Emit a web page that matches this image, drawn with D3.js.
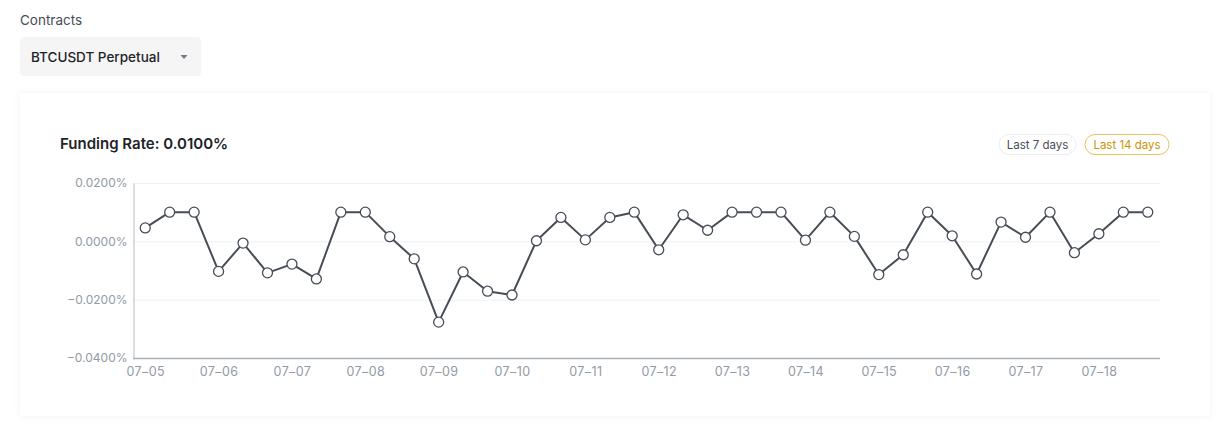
<!DOCTYPE html>
<html><head><meta charset="utf-8">
<script src="https://cdn.jsdelivr.net/npm/d3@7/dist/d3.min.js"></script>
<style>
html,body{margin:0;padding:0;background:#fff;}
svg{display:block;font-family:Inter,"Noto Sans",sans-serif;}
</style></head>
<body>
<svg id="chart" width="1220" height="422"></svg>
<script>
const days = ["07-05","07-06","07-07","07-08","07-09","07-10","07-11","07-12","07-13","07-14","07-15","07-16","07-17","07-18"];
const fundingRates = [
  0.0046, 0.0100, 0.0100,
 -0.0103,-0.0006,-0.0108,
 -0.0078,-0.0129, 0.0100,
  0.0100, 0.0016,-0.0060,
 -0.0277,-0.0105,-0.0171,
 -0.0184, 0.0002, 0.0082,
  0.0005, 0.0082, 0.0100,
 -0.0029, 0.0091, 0.0038,
  0.0100, 0.0100, 0.0100,
  0.0004, 0.0100, 0.0017,
 -0.0114,-0.0046, 0.0100,
  0.0019,-0.0112, 0.0066,
  0.0014, 0.0100,-0.0039,
  0.0026, 0.0100, 0.0100
];
const yTicks = [0.02, 0, -0.02, -0.04];
const periodLabels = ["Last 7 days","Last 14 days"];
const currentRate = "0.0100%";

const svg = d3.select("#chart");
const defs = svg.append("defs");
const f = defs.append("filter").attr("id","sh").attr("x","-5%").attr("y","-10%").attr("width","110%").attr("height","120%");
f.append("feDropShadow").attr("dx",0).attr("dy",0).attr("stdDeviation",3).attr("flood-color","#000").attr("flood-opacity",0.06);

// header
svg.append("text").attr("x",20).attr("y",25).attr("font-size",13.5).attr("fill","#474D57").text("Contracts");
svg.append("rect").attr("x",20).attr("y",37).attr("width",181).attr("height",39).attr("rx",4).attr("fill","#F5F5F5");
svg.append("text").attr("x",31).attr("y",61.5).attr("font-size",13.5).attr("font-weight",500).attr("fill","#1E2329").text("BTCUSDT Perpetual");
svg.append("path").attr("d","M180.5,55 L187.5,55 L184,59 Z").attr("fill","#707A8A");

// card
svg.append("rect").attr("x",20).attr("y",93).attr("width",1190).attr("height",323).attr("fill","#fff").attr("filter","url(#sh)");

svg.append("text").attr("x",60).attr("y",149).attr("font-size",15).attr("font-weight",600).attr("fill","#1E2329").text("Funding Rate: " + currentRate);

// buttons
const btns = [{x:999,w:77,label:periodLabels[0],stroke:"#EAECEF",fill:"#474D57"},{x:1085,w:84,label:periodLabels[1],stroke:"#E8C35F",fill:"#C99400"}];
btns.forEach(b=>{
  svg.append("rect").attr("x",b.x).attr("y",134.5).attr("width",b.w).attr("height",20).attr("rx",10).attr("fill","#fff").attr("stroke",b.stroke).attr("stroke-width",1);
  svg.append("text").attr("x",b.x+b.w/2).attr("y",148.5).attr("text-anchor","middle").attr("font-size",11.5).attr("fill",b.fill).text(b.label);
});

const L=133, R=1160, T=183, B=358;
const idx = d3.range(fundingRates.length);
const x = d3.scaleBand().domain(idx).range([L,R]).padding(0);
const cx = i => x(i) + x.bandwidth()/2;
const y = d3.scaleLinear().domain([-0.04,0.02]).range([B,T]);

// grid
svg.append("g").selectAll("line").data(yTicks.filter(t=>t!==-0.04)).join("line")
  .attr("x1",L).attr("x2",R).attr("y1",d=>y(d)+0.5).attr("y2",d=>y(d)+0.5)
  .attr("stroke","#EEF0F2").attr("stroke-width",1);

// y axis
const yAxis = d3.axisLeft(y).tickValues(yTicks).tickSize(0).tickPadding(6)
  .tickFormat(d=> (d<0?"\u2212":"") + Math.abs(d).toFixed(4) + "%");
const gy = svg.append("g").attr("transform",`translate(${L+0.5},0)`).call(yAxis);
gy.select(".domain").attr("stroke","#B7BDC6");
gy.selectAll("text").attr("font-size",12).attr("fill","#929AA5").attr("font-family","Inter,'Noto Sans',sans-serif");

// x axis
const dayScale = d3.scalePoint().domain(days).range([cx(0), cx(39)]);
const xAxis = d3.axisBottom(dayScale).tickSize(0).tickPadding(9).tickFormat(d=>d.replace("-","\u2013"));
const gx = svg.append("g").attr("transform",`translate(0,${B+0.5})`).call(xAxis);
gx.select(".domain").remove();
svg.append("line").attr("x1",L).attr("x2",R).attr("y1",B+0.5).attr("y2",B+0.5).attr("stroke","#A9AFB8").attr("stroke-width",1.5);
gx.selectAll("text").attr("font-size",12.5).attr("fill","#929AA5").attr("letter-spacing",0.4).attr("font-family","Inter,'Noto Sans',sans-serif");

// line
const line = d3.line().x((d,i)=>cx(i)).y(d=>y(d));
svg.append("path").datum(fundingRates).attr("d",line).attr("fill","none").attr("stroke","#474D57").attr("stroke-width",2).attr("stroke-linejoin","round");
svg.append("g").selectAll("circle").data(fundingRates).join("circle")
  .attr("cx",(d,i)=>cx(i)).attr("cy",d=>y(d)).attr("r",5)
  .attr("fill","#fff").attr("stroke","#474D57").attr("stroke-width",1.3);
</script>
</body></html>
